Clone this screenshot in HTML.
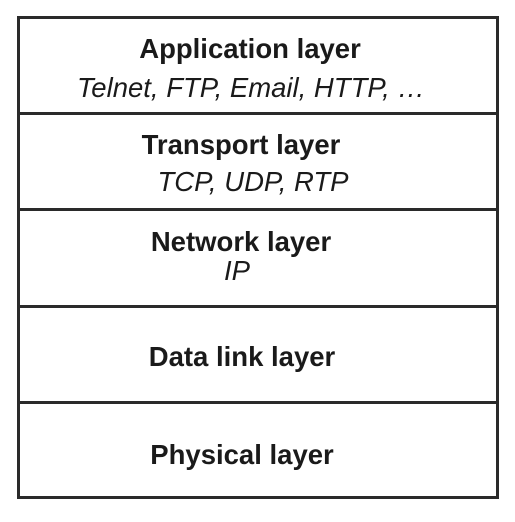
<!DOCTYPE html>
<html><head><style>
body{margin:0;width:515px;height:522px;background:#fff;position:relative;font-family:"Liberation Sans",Arial,sans-serif;color:#1a1a1a;overflow:hidden}
.l{position:absolute;background:#2a2a2a}
.t{position:absolute;width:480px;text-align:center;font-size:27.5px;line-height:30px;white-space:nowrap}
.b{font-weight:bold}.i{font-style:italic}
</style></head><body>
<div class="l" style="left:17px;top:16px;width:482px;height:3px"></div>
<div class="l" style="left:17px;top:496px;width:482px;height:3px"></div>
<div class="l" style="left:17px;top:16px;width:3px;height:483px"></div>
<div class="l" style="left:496px;top:16px;width:3px;height:483px"></div>
<div class="l" style="left:17px;top:112px;width:482px;height:3px"></div>
<div class="l" style="left:17px;top:208px;width:482px;height:3px"></div>
<div class="l" style="left:17px;top:305px;width:482px;height:3px"></div>
<div class="l" style="left:17px;top:401px;width:482px;height:3px"></div>
<div class="t b" style="top:34px;left:10px">Application layer</div>
<div class="t i" style="top:73px;left:11px">Telnet, FTP, Email, HTTP, …</div>
<div class="t b" style="top:130px;left:1px">Transport layer</div>
<div class="t i" style="top:167px;left:13px">TCP, UDP, RTP</div>
<div class="t b" style="top:227px;left:1px">Network layer</div>
<div class="t i" style="top:256px;left:-3px">IP</div>
<div class="t b" style="top:342px;left:2px">Data link layer</div>
<div class="t b" style="top:440px;left:2px">Physical layer</div>
</body></html>
